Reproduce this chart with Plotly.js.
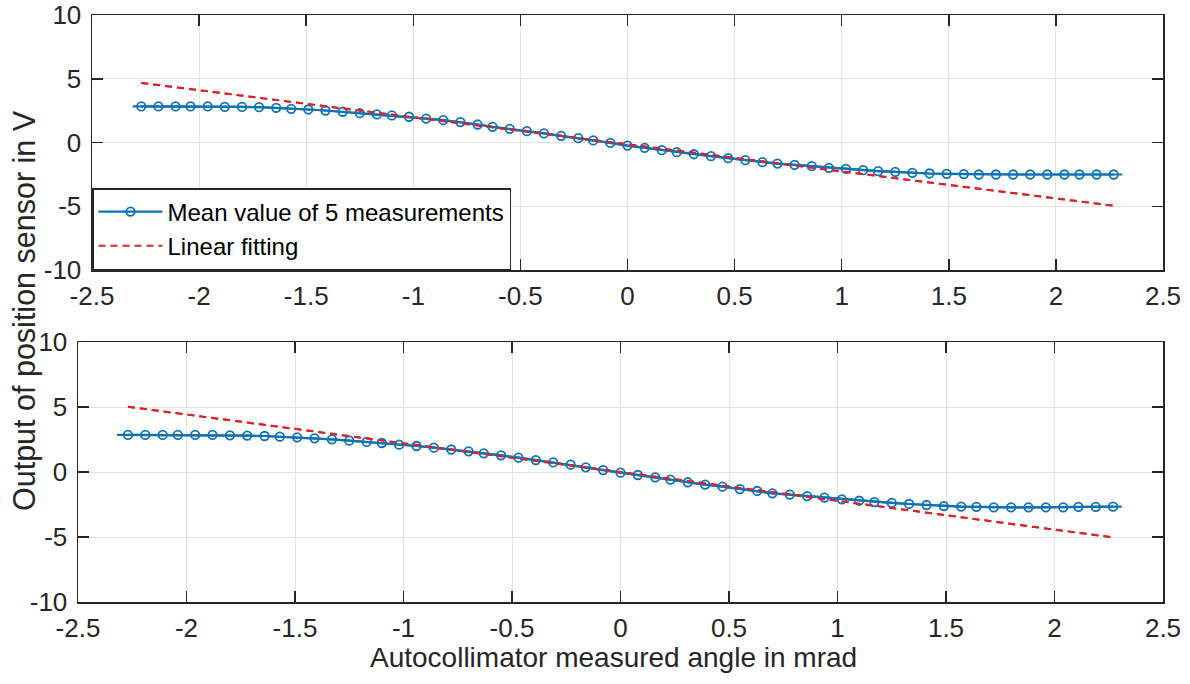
<!DOCTYPE html>
<html>
<head>
<meta charset="utf-8">
<script src="https://cdn.plot.ly/plotly-3.0.1.min.js"></script>
<style>
  html, body { margin: 0; padding: 0; background: #ffffff; }
  #chart { width: 1190px; height: 684px; }
</style>
</head>
<body>
<div id="chart"></div>
<script>
// ---- data ----
const xAngle = [
  -2.27, -2.19, -2.11, -2.04, -1.96, -1.88, -1.80, -1.72, -1.64, -1.57,
  -1.49, -1.41, -1.33, -1.25, -1.17, -1.10, -1.02, -0.94, -0.86, -0.78,
  -0.70, -0.63, -0.55, -0.47, -0.39, -0.31, -0.23, -0.16, -0.08, 0.00,
  0.08, 0.16, 0.23, 0.31, 0.39, 0.47, 0.55, 0.63, 0.70, 0.78,
  0.86, 0.94, 1.02, 1.10, 1.17, 1.25, 1.33, 1.41, 1.49, 1.57,
  1.64, 1.72, 1.80, 1.88, 1.96, 2.04, 2.11, 2.19, 2.27
];
const topMean = [
  2.83, 2.83, 2.83, 2.83, 2.83, 2.80, 2.79, 2.77, 2.72, 2.64,
  2.59, 2.51, 2.41, 2.30, 2.20, 2.12, 2.02, 1.88, 1.75, 1.60,
  1.41, 1.23, 1.07, 0.89, 0.71, 0.52, 0.34, 0.16, -0.03, -0.24,
  -0.42, -0.60, -0.76, -0.92, -1.07, -1.23, -1.39, -1.54, -1.65, -1.75,
  -1.86, -1.99, -2.07, -2.17, -2.25, -2.30, -2.38, -2.43, -2.46, -2.48,
  -2.51, -2.51, -2.51, -2.51, -2.51, -2.51, -2.51, -2.51, -2.51
];
const bottomMean = [
  2.85, 2.85, 2.85, 2.85, 2.85, 2.85, 2.82, 2.80, 2.77, 2.72,
  2.67, 2.59, 2.51, 2.41, 2.31, 2.23, 2.10, 2.00, 1.87, 1.73,
  1.59, 1.44, 1.28, 1.10, 0.92, 0.74, 0.56, 0.36, 0.15, -0.05,
  -0.23, -0.41, -0.59, -0.79, -0.97, -1.13, -1.31, -1.46, -1.64, -1.74,
  -1.85, -1.97, -2.10, -2.21, -2.31, -2.38, -2.46, -2.54, -2.62, -2.67,
  -2.69, -2.72, -2.72, -2.72, -2.72, -2.72, -2.69, -2.69, -2.67
];
// the drawn line runs slightly past the first and last markers
const topLineEndsX = [-2.31, 2.31];
const bottomLineEndsX = [-2.32, 2.31];
// linear fitting end points
const topFitX = [-2.27, 2.27];
const topFitY = [4.67, -4.96];
const bottomFitX = [-2.27, 2.27];
const bottomFitY = [5.02, -5.03];

const seriesNames = ['Mean value of 5 measurements', 'Linear fitting'];
const xTickVals = [-2.5, -2, -1.5, -1, -0.5, 0, 0.5, 1, 1.5, 2, 2.5];
const xTickText = ['-2.5', '-2', '-1.5', '-1', '-0.5', '0', '0.5', '1', '1.5', '2', '2.5'];
const yTickVals = [-10, -5, 0, 5, 10];
const yTickText = ['-10', '-5', '0', '5', '10'];
const xTitle = 'Autocollimator measured angle in mrad';
const yTitle = 'Output of position sensor in V';

// ---- styling ----
const BLUE = '#0f72b8';
const RED = '#e41f28';
const AX = '#262626';
const FONT = '"Liberation Sans", Arial, Helvetica, sans-serif';

function extended(ends, ys) {
  return {
    x: [ends[0]].concat(xAngle, [ends[1]]),
    y: [ys[0]].concat(ys, [ys[ys.length - 1]])
  };
}
const topExt = extended(topLineEndsX, topMean);
const botExt = extended(bottomLineEndsX, bottomMean);

const lineStyle = {color: BLUE, width: 2.2};
const markerStyle = {symbol: 'circle-open', size: 8.5, color: BLUE, line: {color: BLUE, width: 1.8}};
const fitStyle = {color: RED, width: 2, dash: '7px,5px'};

const traces = [
  {x: topFitX, y: topFitY, mode: 'lines', line: fitStyle, name: seriesNames[1],
   xaxis: 'x', yaxis: 'y', showlegend: false, hoverinfo: 'skip'},
  {x: topExt.x, y: topExt.y, mode: 'lines', line: lineStyle, showlegend: false,
   xaxis: 'x', yaxis: 'y', hoverinfo: 'skip'},
  {x: xAngle, y: topMean, mode: 'lines+markers', line: lineStyle, marker: markerStyle,
   name: seriesNames[0], xaxis: 'x', yaxis: 'y', legendrank: 1},
  {x: topFitX, y: topFitY, mode: 'lines', line: fitStyle, name: seriesNames[1],
   xaxis: 'x', yaxis: 'y', legendrank: 2},

  {x: bottomFitX, y: bottomFitY, mode: 'lines', line: fitStyle, name: seriesNames[1],
   xaxis: 'x2', yaxis: 'y2', showlegend: false},
  {x: botExt.x, y: botExt.y, mode: 'lines', line: lineStyle, showlegend: false,
   xaxis: 'x2', yaxis: 'y2', hoverinfo: 'skip'},
  {x: xAngle, y: bottomMean, mode: 'lines+markers', line: lineStyle, marker: markerStyle,
   name: seriesNames[0], xaxis: 'x2', yaxis: 'y2', showlegend: false},
  {x: bottomFitX, y: bottomFitY, mode: 'lines', line: fitStyle, name: seriesNames[1],
   xaxis: 'x2', yaxis: 'y2', showlegend: false}
];

// geometry (pixels)
const W = 1190, H = 684;
const mL = 78, mR = 27, mT = 15, mB = 82;
const pw = W - mL - mR, ph = H - mT - mB;
const topLeftPx = 92;

function xaxisCfg(domain, anchor) {
  return {
    domain: domain, anchor: anchor, range: [-2.5, 2.5],
    tickmode: 'array', tickvals: xTickVals, ticktext: xTickText,
    ticks: 'inside', ticklen: 11, tickwidth: 1.5, tickcolor: AX,
    showline: true, linecolor: AX, linewidth: 1.5, mirror: 'ticks',
    showgrid: true, gridcolor: '#e3e3e3', gridwidth: 1, zeroline: false,
    tickfont: {family: FONT, size: 26, color: AX}, ticklabelstandoff: 2,
    fixedrange: true
  };
}
function yaxisCfg(domain, anchor) {
  return {
    domain: domain, anchor: anchor, range: [-10, 10],
    tickmode: 'array', tickvals: yTickVals, ticktext: yTickText,
    ticks: 'inside', ticklen: 11, tickwidth: 1.5, tickcolor: AX,
    showline: true, linecolor: AX, linewidth: 1.5, mirror: 'ticks',
    showgrid: true, gridcolor: '#e3e3e3', gridwidth: 1, zeroline: false,
    tickfont: {family: FONT, size: 26, color: AX}, ticklabelstandoff: 4,
    fixedrange: true
  };
}

const topDomX = [(topLeftPx - mL) / pw, 1];
const topDomY = [(H - mB - 270) / ph, 1];
const botDomY = [0, (H - mB - 342) / ph];

const layout = {
  width: W, height: H,
  margin: {l: mL, r: mR, t: mT, b: mB},
  paper_bgcolor: '#ffffff', plot_bgcolor: '#ffffff',
  font: {family: FONT, color: AX},
  xaxis: xaxisCfg(topDomX, 'y'),
  yaxis: yaxisCfg(topDomY, 'x'),
  xaxis2: xaxisCfg([0, 1], 'y2'),
  yaxis2: yaxisCfg(botDomY, 'x2'),
  showlegend: true,
  legend: {
    x: topDomX[0], y: topDomY[0], xanchor: 'left', yanchor: 'bottom',
    bgcolor: '#ffffff', bordercolor: AX, borderwidth: 1.5,
    font: {family: FONT, size: 24, color: '#000000'},
    tracegroupgap: 0, itemwidth: 64
  },
  annotations: [{
    text: yTitle, textangle: -90, showarrow: false,
    xref: 'paper', yref: 'paper',
    x: (25 - mL) / pw, y: (H - mB - 311) / ph,
    xanchor: 'center', yanchor: 'middle',
    font: {family: FONT, size: 30.5, color: AX}
  }, {
    text: xTitle, showarrow: false,
    xref: 'paper', yref: 'paper',
    x: (613 - mL) / pw, y: (H - mB - 657) / ph,
    xanchor: 'center', yanchor: 'middle',
    font: {family: FONT, size: 28, color: AX}
  }]
};

Plotly.newPlot('chart', traces, layout, {displayModeBar: false, staticPlot: true});
</script>
</body>
</html>
